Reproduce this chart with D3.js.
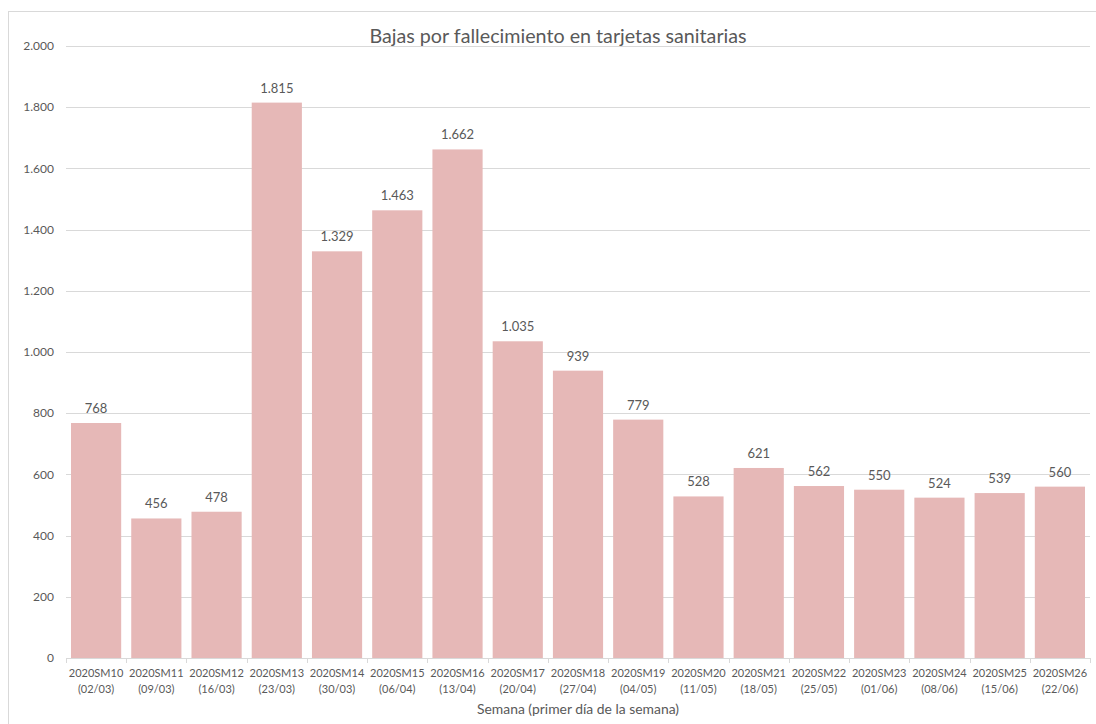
<!DOCTYPE html>
<html><head><meta charset="utf-8">
<script src="https://cdn.jsdelivr.net/npm/d3@7"></script>
<style>
body{margin:0;background:#fff;}
svg{display:block;font-family:Lato,"Open Sans",sans-serif;}
</style></head>
<body><svg id="c" width="1096" height="724"></svg>
<script>
const weeks = ["2020SM10","2020SM11","2020SM12","2020SM13","2020SM14","2020SM15","2020SM16","2020SM17","2020SM18","2020SM19","2020SM20","2020SM21","2020SM22","2020SM23","2020SM24","2020SM25","2020SM26"];
const dates = ["(02/03)","(09/03)","(16/03)","(23/03)","(30/03)","(06/04)","(13/04)","(20/04)","(27/04)","(04/05)","(11/05)","(18/05)","(25/05)","(01/06)","(08/06)","(15/06)","(22/06)"];
const bajas = [768,456,478,1815,1329,1463,1662,1035,939,779,528,621,562,550,524,539,560];
const yTicks = [0,200,400,600,800,1000,1200,1400,1600,1800,2000];
const title = "Bajas por fallecimiento en tarjetas sanitarias";
const xTitle = "Semana (primer día de la semana)";

const loc = d3.formatLocale({decimal:",",thousands:".",grouping:[3],currency:["","€"]});
const fmt = loc.format(",d");

const svg = d3.select("#c");
const L=66,R=1090,T=46,B=658;
const x = d3.scaleBand().domain(weeks).range([L,R]).paddingInner(0.167).paddingOuter(0.083);
const y = d3.scaleLinear().domain([0,2000]).range([B,T]);
const txt="#595959";

// chart frame
svg.append("rect").attr("x",8.5).attr("y",11.5).attr("width",1200).attr("height",800)
  .attr("fill","none").attr("stroke","#d9d9d9");

// gridlines
svg.append("g").selectAll("line").data(yTicks.filter(d=>d>0)).join("line")
  .attr("x1",L).attr("x2",R).attr("y1",d=>Math.round(y(d))+0.5).attr("y2",d=>Math.round(y(d))+0.5)
  .attr("stroke","#d9d9d9");

// y labels
svg.append("g").selectAll("text").data(yTicks).join("text")
  .attr("x",54).attr("y",d=>y(d)).attr("dy","0.35em").attr("text-anchor","end")
  .attr("fill",txt).attr("font-size",12).text(d=>fmt(d));

// bars
svg.append("g").selectAll("rect").data(bajas).join("rect")
  .attr("x",(d,i)=>x(weeks[i])).attr("width",x.bandwidth())
  .attr("y",d=>y(d)).attr("height",d=>B-y(d)).attr("fill","#E6B8B7");

// data labels
svg.append("g").selectAll("text").data(bajas).join("text")
  .attr("x",(d,i)=>x(weeks[i])+x.bandwidth()/2).attr("y",d=>y(d)-10)
  .attr("text-anchor","middle").attr("fill",txt).attr("font-size",13).text(d=>fmt(d));

// x axis
const xa = svg.append("g").attr("transform",`translate(0,${B})`)
  .call(d3.axisBottom(x).tickSize(0).tickFormat(""));
xa.select(".domain").attr("stroke","#d9d9d9");
const tickPos = d3.range(weeks.length+1).map(i=>L+i*(R-L)/weeks.length);
svg.append("g").selectAll("line").data(tickPos).join("line")
  .attr("x1",d=>Math.round(d)+0.5).attr("x2",d=>Math.round(d)+0.5).attr("y1",B).attr("y2",B+5)
  .attr("stroke","#d9d9d9");
const lab = svg.append("g").selectAll("text").data(weeks).join("text")
  .attr("x",d=>x(d)+x.bandwidth()/2).attr("text-anchor","middle").attr("fill",txt).attr("font-size",11);
lab.append("tspan").attr("x",d=>x(d)+x.bandwidth()/2).attr("y",677).text(d=>d);
lab.append("tspan").attr("x",d=>x(d)+x.bandwidth()/2).attr("y",693).text((d,i)=>dates[i]);

// titles
svg.append("text").attr("x",558).attr("y",43).attr("text-anchor","middle").attr("fill",txt)
  .attr("font-size",19.7).text(title);
svg.append("text").attr("x",(L+R)/2).attr("y",714).attr("text-anchor","middle").attr("fill",txt)
  .attr("font-size",13.9).text(xTitle);
</script></body></html>
